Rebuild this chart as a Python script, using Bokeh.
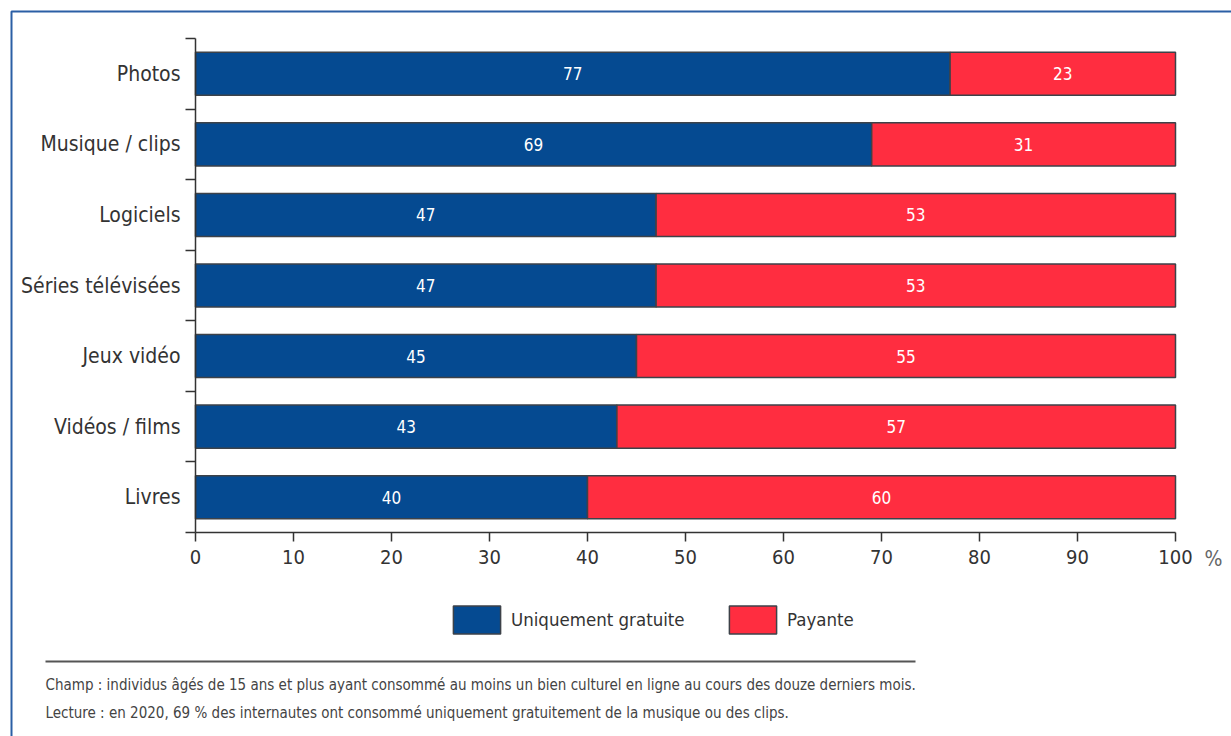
from bokeh.plotting import figure
from bokeh.models import (ColumnDataSource, Range1d, FixedTicker, Legend, LegendItem,
                          Label, BoxAnnotation)
from bokeh.core.properties import value
from bokeh.embed import file_html
from bokeh.resources import INLINE

categories = ["Photos", "Musique / clips", "Logiciels", "Séries télévisées",
              "Jeux vidéo", "Vidéos / films", "Livres"]
gratuite = [77, 69, 47, 47, 45, 43, 40]
payante = [23, 31, 53, 53, 55, 57, 60]
x_ticks = [0, 10, 20, 30, 40, 50, 60, 70, 80, 90, 100]
series_names = ["Uniquement gratuite", "Payante"]
note1 = ("Champ : individus âgés de 15 ans et plus ayant consommé au moins un bien "
         "culturel en ligne au cours des douze derniers mois.")
note2 = ("Lecture : en 2020, 69 % des internautes ont consommé uniquement gratuitement "
         "de la musique ou des clips.")

FONT = "DejaVu Sans Condensed"
BLUE = "#054a91"
RED = "#ff2d40"
EDGE = "#3d4249"
TXT = "#333333"

W, H = 1231, 736
# pixel layout of the plotting area inside the canvas
PL, PR, PT, PB = 195, 1175, 38, 532

n = len(categories)
ypos = [n - 1 - i + 0.5 for i in range(n)]
total = [g + p for g, p in zip(gratuite, payante)]

xs = (PR - PL) / 100.0          # px per percent
ys = (PB - PT) / float(n)       # px per category
x_range = Range1d(-PL / xs, 100 + (W - PR) / xs)
y_range = Range1d(-(H - PB) / ys, n + PT / ys)

src = ColumnDataSource(dict(
    y=ypos, cat=categories, g=gratuite, p=payante, tot=total,
    gx=[g / 2 for g in gratuite],
    px=[g + p / 2 for g, p in zip(gratuite, payante)],
    gt=[str(g) for g in gratuite], pt=[str(p) for p in payante],
))

p = figure(width=W, height=H, output_backend="svg", toolbar_location=None,
           x_range=x_range, y_range=y_range,
           min_border_left=0, min_border_right=0, min_border_top=0,
           min_border_bottom=0)
p.outline_line_color = None
p.xgrid.visible = False
p.ygrid.visible = False
p.background_fill_color = "white"
p.border_fill_color = "white"

rg = p.hbar(y="y", left=0, right="g", height=0.61, source=src,
            fill_color=BLUE, line_color=EDGE, line_width=1.5)
rp = p.hbar(y="y", left="g", right="tot", height=0.61, source=src,
            fill_color=RED, line_color=EDGE, line_width=1.5)

p.text(x="gx", y="y", text="gt", source=src, text_color="white",
       text_font=value(FONT), text_font_size="17px",
       text_align="center", text_baseline="middle")
p.text(x="px", y="y", text="pt", source=src, text_color="white",
       text_font=value(FONT), text_font_size="17px",
       text_align="center", text_baseline="middle")

# x axis, drawn at y = 0
xa = p.xaxis[0]
xa.fixed_location = 0
xa.bounds = (0, 100)
xa.ticker = FixedTicker(ticks=x_ticks)
xa.major_tick_out = 9
xa.major_tick_in = 0
xa.minor_tick_line_color = None
xa.axis_line_color = TXT
xa.axis_line_width = 1.5
xa.major_tick_line_color = TXT
xa.major_tick_line_width = 1.5
xa.major_label_text_font = FONT
xa.major_label_text_font_size = "20px"
xa.major_label_text_color = TXT
xa.major_label_standoff = 8

# y axis at x = 0: labels at centres, ticks at category boundaries
ya = p.yaxis[0]
ya.fixed_location = 0
ya.bounds = (0, n)
ya.ticker = FixedTicker(ticks=ypos, minor_ticks=list(range(n + 1)))
ya.major_label_overrides = {y: c for y, c in zip(ypos, categories)}
ya.major_tick_out = 0
ya.major_tick_in = 0
ya.minor_tick_out = 10
ya.minor_tick_in = 0
ya.minor_tick_line_color = TXT
ya.minor_tick_line_width = 1.5
ya.axis_line_color = TXT
ya.axis_line_width = 1.5
ya.major_label_text_font = FONT
ya.major_label_text_font_size = "21px"
ya.major_label_text_color = TXT
ya.major_label_standoff = 5

# percent sign after the last tick label
p.add_layout(Label(x=1213, y=H - 558, x_units="screen", y_units="screen", text="%",
                   text_font=FONT, text_font_size="21px", text_color="#666666",
                   text_align="center", text_baseline="middle"))

# legends (bar swatches fill 80% of the glyph area)
for r, name, lx in [(rg, series_names[0], 447), (rp, series_names[1], 723)]:
    lg = Legend(items=[LegendItem(label=name, renderers=[r])],
                location=(lx, H - 637), orientation="horizontal",
                glyph_width=59, glyph_height=35, label_standoff=5,
                label_text_font=FONT, label_text_font_size="18.5px",
                label_text_color=TXT, padding=0, margin=0,
                border_line_alpha=0, background_fill_alpha=0)
    p.add_layout(lg)

# separator and notes
p.add_layout(BoxAnnotation(left=45, right=915, top=H - 660, bottom=H - 662,
                           left_units="screen", right_units="screen",
                           top_units="screen", bottom_units="screen",
                           fill_color="#555555", fill_alpha=1, line_color=None))
p.add_layout(Label(x=45, y=H - 684, x_units="screen", y_units="screen", text=note1,
                   text_font=FONT, text_font_size="15px", text_color="#444444",
                   text_baseline="middle"))
p.add_layout(Label(x=45, y=H - 712, x_units="screen", y_units="screen", text=note2,
                   text_font=FONT, text_font_size="15px", text_color="#444444",
                   text_baseline="middle"))

# outer frame (right and bottom sides fall outside the canvas)
p.add_layout(BoxAnnotation(left=11, right=W + 40, top=H - 11, bottom=-40,
                           left_units="screen", right_units="screen",
                           top_units="screen", bottom_units="screen",
                           fill_alpha=0, line_color="#2b5fa5", line_alpha=1,
                           line_width=2))

open("out.html", "w").write(file_html(p, INLINE))
